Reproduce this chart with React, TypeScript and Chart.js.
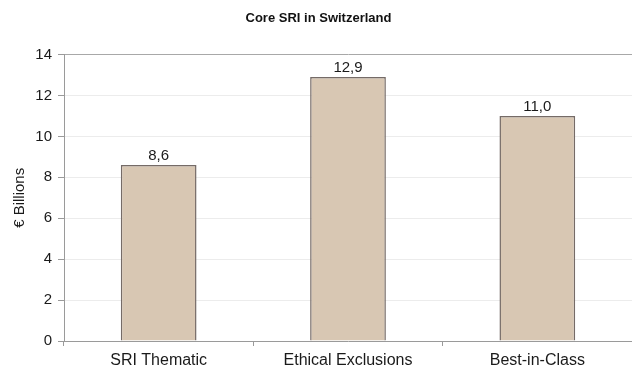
import React, { useEffect, useRef } from "react";
import { Chart, registerables } from "chart.js";

Chart.register(...registerables);

const categories = ["SRI Thematic", "Ethical Exclusions", "Best-in-Class"];
const values = [8.6, 12.9, 11.0];
const valueLabels = ["8,6", "12,9", "11,0"];
const yTicks = [0, 2, 4, 6, 8, 10, 12, 14];

const FONT = "'Liberation Sans', Arial, sans-serif";

const labelPlugin = {
  id: "valueLabels",
  afterDatasetsDraw(chart: any) {
    const ctx = chart.ctx;
    const meta = chart.getDatasetMeta(0);
    ctx.save();
    ctx.font = `15px ${FONT}`;
    ctx.fillStyle = "#1a1a1a";
    ctx.textAlign = "center";
    ctx.textBaseline = "bottom";
    meta.data.forEach((bar: any, i: number) => {
      ctx.fillText(valueLabels[i], bar.x, bar.y - 2);
    });
    ctx.restore();
  },
};

export default function App() {
  const ref = useRef<HTMLCanvasElement>(null);
  useEffect(() => {
    document.body.style.margin = "0";
    const chart = new Chart(ref.current!, {
      type: "bar",
      data: {
        labels: categories,
        datasets: [
          {
            data: values,
            backgroundColor: "#D8C7B3",
            borderColor: "#756b67",
            borderWidth: 1.5,
            categoryPercentage: 1,
            barPercentage: 0.4,
          },
        ],
      },
      options: {
        responsive: false,
        animation: false,
        devicePixelRatio: 1,
        layout: { padding: { left: 0, right: -5, top: 0, bottom: 0 } },
        plugins: {
          legend: { display: false },
          tooltip: { enabled: false },
          title: {
            display: true,
            text: "Core SRI in Switzerland",
            color: "#111",
            font: { family: FONT, size: 13, weight: "bold" },
            padding: { top: 11, bottom: 28 },
          },
        },
        scales: {
          x: {
            grid: {
              display: true,
              drawOnChartArea: false,
              offset: true,
              tickLength: 5,
              color: "#9a9a9a",
            },
            border: { color: "#9a9a9a", width: 1 },
            ticks: {
              color: "#1a1a1a",
              font: { family: FONT, size: 16 },
              padding: 5,
            },
            afterFit(scale: any) {
              scale.height = 34;
            },
          },
          y: {
            min: 0,
            max: 14,
            afterBuildTicks(scale: any) {
              scale.ticks = yTicks.map((v) => ({ value: v }));
            },
            grid: {
              color: (c: any) => (c.tick && c.tick.value === 14 ? "#a8a8a8" : "#ececec"),
              tickColor: "#9a9a9a",
              tickLength: 6,
            },
            border: { color: "#9a9a9a", width: 1 },
            ticks: {
              color: "#1a1a1a",
              font: { family: FONT, size: 15 },
              padding: 6,
            },
            title: {
              display: true,
              text: "€ Billions",
              color: "#1a1a1a",
              font: { family: FONT, size: 15 },
              padding: { top: 11, bottom: 0 },
            },
            afterFit(scale: any) {
              scale.width = 64;
            },
          },
        },
      },
      plugins: [labelPlugin],
    });
    return () => chart.destroy();
  }, []);
  return (
    <div style={{ width: 632, height: 375 }}>
      <canvas ref={ref} width={632} height={375} style={{ display: "block" }} />
    </div>
  );
}
